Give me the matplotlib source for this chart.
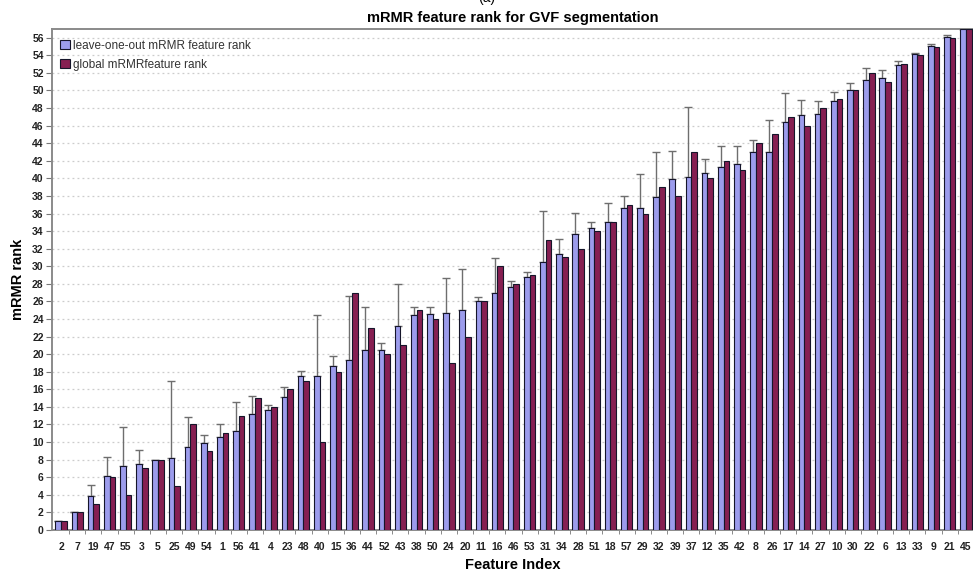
import matplotlib
matplotlib.use("Agg")
import matplotlib.pyplot as plt
from matplotlib.ticker import FixedLocator, NullFormatter
import numpy as np

plt.rcParams['font.family'] = ['Liberation Sans', 'DejaVu Sans']

# Feature indices in ranked order
features = ["2", "7", "19", "47", "55", "3", "5", "25", "49", "54", "1", "56", "41", "4",
            "23", "48", "40", "15", "36", "44", "52", "43", "38", "50", "24", "20", "11", "16",
            "46", "53", "31", "34", "28", "51", "18", "57", "29", "32", "39", "37", "12", "35",
            "42", "8", "26", "17", "14", "27", "10", "30", "22", "6", "13", "33", "9", "21", "45"]

# Mean leave-one-out mRMR rank
loo_mean = [1.0, 2.0, 3.85, 6.1, 7.25, 7.55, 8.0, 8.15, 9.45, 9.85, 10.6, 11.25, 13.15, 13.6,
            15.1, 17.5, 17.5, 18.6, 19.35, 20.5, 20.5, 23.15, 24.5, 24.6, 24.7, 25.0, 26.0, 27.0,
            27.65, 28.75, 30.5, 31.4, 33.65, 34.4, 35.05, 36.6, 36.6, 37.9, 39.95, 40.15, 40.6, 41.3,
            41.6, 42.95, 43.05, 46.4, 47.2, 47.35, 48.85, 50.0, 51.25, 51.4, 52.9, 54.1, 55.1, 56.1, 57.0]

# Mean + one standard deviation (top of the error whisker)
loo_upper = [1.0, 2.0, 5.15, 8.3, 11.75, 9.1, 8.0, 16.95, 12.85, 10.85, 12.05, 14.55, 15.25, 14.2,
             16.25, 18.05, 24.45, 19.75, 26.65, 25.35, 21.3, 27.95, 25.4, 25.4, 28.65, 29.7, 26.55, 30.95,
             28.3, 29.35, 36.3, 33.15, 36.1, 35.05, 37.2, 38.0, 40.5, 42.95, 43.1, 48.1, 42.2, 43.65,
             43.65, 44.4, 46.65, 49.75, 48.9, 48.85, 49.85, 50.8, 52.55, 52.35, 53.3, 54.25, 55.25, 56.3, 57.0]

# Global mRMR rank
global_rank = [1, 2, 3, 6, 4, 7, 8, 5, 12, 9, 11, 13, 15, 14, 16, 17, 10, 18, 27, 23, 20, 21, 25, 24,
               19, 22, 26, 30, 28, 29, 33, 31, 32, 34, 35, 37, 36, 39, 38, 43, 40, 42, 41, 44, 45,
               47, 46, 48, 49, 50, 52, 51, 53, 54, 55, 56, 57]

y_ticks = list(range(0, 57, 2))

x = np.arange(len(features))
w = 0.35
loo_mean_a = np.array(loo_mean)
err_up = np.array(loo_upper) - loo_mean_a
err = np.vstack([np.zeros_like(err_up), err_up])

fig = plt.figure(figsize=(9.73, 5.76), dpi=100)
ax = fig.add_axes([0.0535, 0.080, 0.9465, 0.8697])

blue = "#9c9cec"
maroon = "#861f52"
edge = "#15152a"

ax.bar(x - w / 2, loo_mean, width=w, color=blue, edgecolor=edge, linewidth=0.8,
       label="leave-one-out mRMR feature rank", zorder=3)
ax.errorbar(x - w / 2, loo_mean, yerr=err, fmt="none", ecolor="#6e6e6e",
            elinewidth=1.0, capsize=2.6, capthick=1.0, zorder=2)
ax.bar(x + w / 2, global_rank, width=w, color=maroon, edgecolor=edge, linewidth=0.8,
       label="global mRMRfeature rank", zorder=3)

ax.set_xlim(-0.56, len(features) - 0.56)
ax.set_ylim(0, 57)

ax.set_yticks(y_ticks)
ax.set_yticklabels([str(t) for t in y_ticks], fontsize=7.5, fontweight="bold", color="#222222")
ax.set_xticks(x)
ax.set_xticklabels(features, fontsize=7.5, fontweight="bold", color="#222222")
ax.tick_params(axis="x", which="major", length=0, pad=9)
ax.xaxis.set_minor_locator(FixedLocator(x[:-1] + 0.5))
ax.xaxis.set_minor_formatter(NullFormatter())
ax.tick_params(axis="x", which="minor", length=3, color="#777777", direction="out")
ax.tick_params(axis="y", length=4, color="#777777", pad=2)

ax.yaxis.grid(True, linestyle=(0, (1.5, 2.5)), color="#cccccc", linewidth=0.9, zorder=0)
ax.set_axisbelow(True)

for side in ("left", "top", "bottom"):
    ax.spines[side].set_color("#8a8a8a")
    ax.spines[side].set_linewidth(1.4)
ax.spines["right"].set_visible(False)

ax.set_title("mRMR feature rank for GVF segmentation", fontsize=10.5, fontweight="bold", pad=5)
ax.set_xlabel("Feature Index", fontsize=10.5, fontweight="bold", labelpad=4)
ax.set_ylabel("mRMR rank", fontsize=10.5, fontweight="bold", labelpad=5)

leg = ax.legend(loc="upper left", frameon=False, fontsize=8.5, handlelength=0.8,
                handleheight=0.8, handletextpad=0.3, labelspacing=0.6,
                borderaxespad=0.3, bbox_to_anchor=(0.0, 0.995))
for t in leg.get_texts():
    t.set_color("#333333")

# Sub-figure label, partly above the top edge of the figure
fig.text(0.5, 1.004, "(a)", ha="center", va="center", fontsize=10)

fig.savefig("out.png", dpi=100)
